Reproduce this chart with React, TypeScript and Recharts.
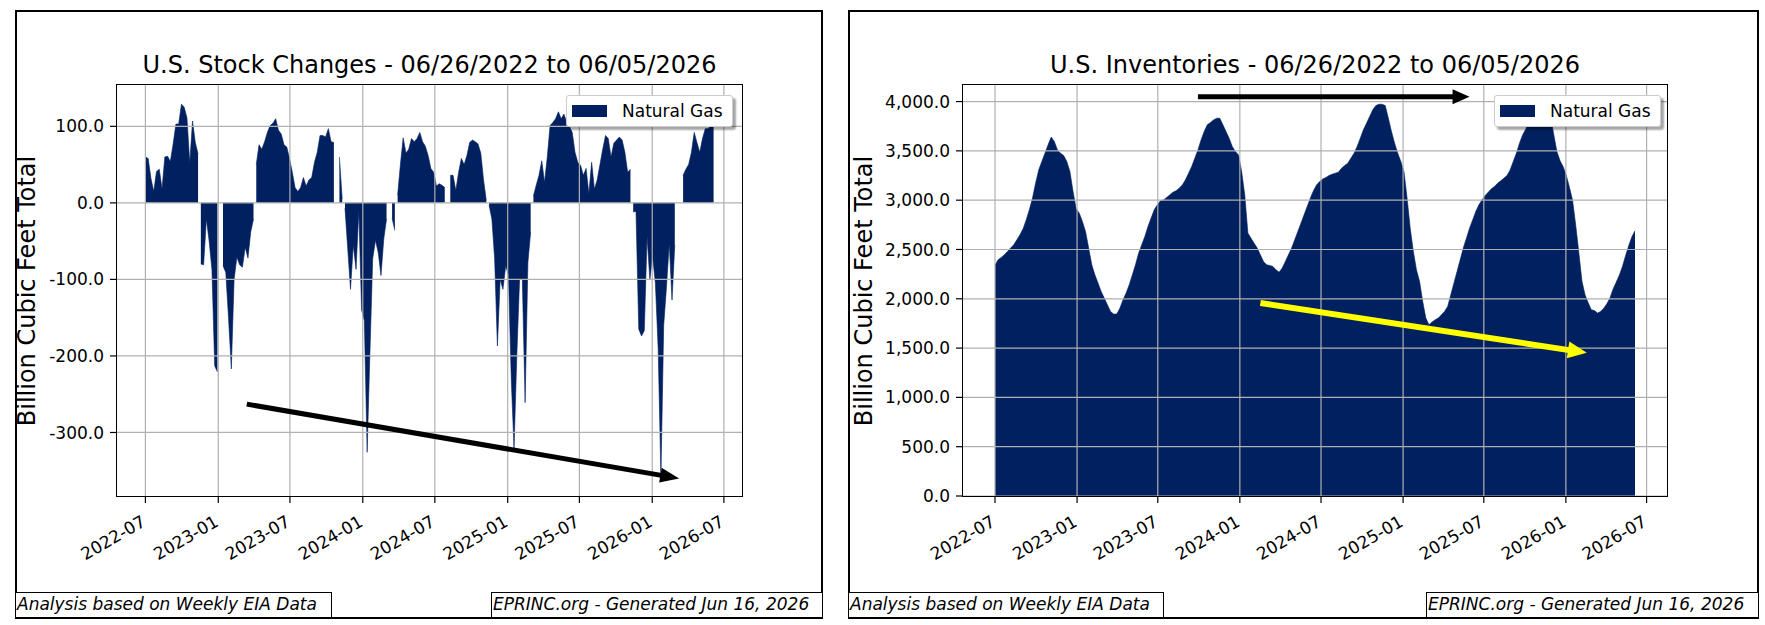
import React from 'react';
import { AreaChart, Area, XAxis, YAxis, ReferenceLine } from 'recharts';

const NAVY = '#002060';
const GRID = '#b0b0b0';
const FONT = '"DejaVu Sans", sans-serif';

// weekly EIA storage report, first week and values
const firstWeek = '2022-07-01';

const stockChanges = [
  60, 58, 32, 15, 41, 44, 18, 60, 61, 54, 77, 103, 103, 129, 125, 111, 52, 107, 79, 64,
  -80, -81, -21, -50, -87, -213, -221, 11, -82, -91, -151, -217, -100, -71, -81, -84, -58, -72, -38, -21,
  50, 76, 70, 80, 92, 101, 104, 110, 95, 90, 76, 73, 58,
  40, 20, 15, 20, 33, 22, 30, 33, 53, 66, 88, 88, 86, 97, 80, 79,
  -3, 60, 5, -7, -60, -113, -55, -87, -10, -140, -154, -326, -197, -73, -49, -65, -95, -47, -21, 5, -20, -36, 10,
  50, 85, 65, 70, 84, 80, 84, 92, 80, 74, 62, 45, 40,
  22, 25, 23, 20, -3, 36, 36, 16, 40, 58, 50, 62, 79, 82, 80, 77, 65, 30, 3, -3,
  -21, -73, -187, -100, -113, -82, -95, -230, -321, -200, -100, -100, -261, -78, -38,
  9, 23, 36, 55, 27, 60, 101, 105, 110, 119, 110, 116, 105, 100, 92, 66, 53, 49,
  36, 45, 12, 53, 18, 30, 50, 70, 88, 84, 60, 78, 82, 86, 82, 66, 40, 44,
  -12, -11, -165, -174, -167, -44, -100, -70, -105, -190, -358, -160, -110, -53, -127, -55, 31, -50,
  36, 44, 50, 66, 92, 79, 66, 84, 97, 97, 101, 100,
];

const inventories = [
  2340, 2395, 2419, 2446, 2480, 2514, 2547, 2598, 2649, 2710,
  2800, 2902, 3020, 3172, 3307, 3392, 3476, 3561, 3640, 3595,
  3510, 3476, 3453, 3392, 3290, 3088, 2912, 2868, 2784, 2683,
  2514, 2345, 2243, 2159, 2075, 2007, 1939, 1872, 1845, 1845,
  1905, 1990, 2058, 2142, 2243, 2345, 2463, 2547, 2632, 2733,
  2818, 2902, 2953, 2993, 3003, 3027, 3054, 3081, 3095, 3122,
  3155, 3206, 3274, 3341, 3426, 3510, 3611, 3696, 3764, 3787,
  3814, 3831, 3831, 3764, 3696, 3628, 3544, 3493, 3459, 3291,
  3054, 2666, 2615, 2564, 2514, 2446, 2378, 2345, 2338, 2328,
  2294, 2270, 2311, 2378, 2446, 2514, 2598, 2683, 2767, 2851,
  2936, 3020, 3095, 3155, 3189, 3216, 3230, 3250, 3264, 3274,
  3284, 3324, 3351, 3375, 3426, 3476, 3544, 3628, 3713, 3780,
  3848, 3916, 3959, 3973, 3973, 3959, 3831, 3696, 3578, 3476,
  3392, 3291, 3020, 2716, 2480, 2294, 2176, 1973, 1804, 1737,
  1764, 1787, 1804, 1838, 1872, 1923, 2041, 2159, 2277, 2395,
  2514, 2615, 2716, 2800, 2885, 2953, 3003, 3047, 3081, 3115,
  3139, 3172, 3196, 3223, 3250, 3307, 3392, 3476, 3578, 3662,
  3720, 3790, 3860, 3905, 3935, 3950, 3945, 3930, 3840, 3660,
  3490, 3400, 3340, 3250, 3130, 3000, 2750, 2470, 2180, 2040,
  1960, 1890, 1880, 1855, 1870, 1905, 1950, 2010, 2100, 2170,
  2240, 2330, 2440, 2540, 2630, 2690,
];

const dateTicks = ['2022-07', '2023-01', '2023-07', '2024-01', '2024-07', '2025-01', '2025-07', '2026-01', '2026-07'];
const changeTicks = [-300, -200, -100, 0, 100];
const inventoryTicks = [0, 500, 1000, 1500, 2000, 2500, 3000, 3500, 4000];

// hand-drawn annotation arrows (start, tip)
const changeArrow = [{ date: '2023-03-14', value: -263 }, { date: '2026-03-10', value: -360 }];
const inventoryArrow = [{ date: '2023-09-29', value: 4048 }, { date: '2025-05-30', value: 4048 }];
const inventoryTrend = [{ date: '2024-02-16', value: 1957 }, { date: '2026-02-17', value: 1452 }];

const DAY = 86400000;
const toDay = (s: string) => Date.parse(s.length === 7 ? `${s}-01` : s) / DAY;
const startDay = toDay(firstWeek);
const weekDay = (i: number) => startDay + 7 * i;
const tickDays = dateTicks.map(toDay);
const lastDay = weekDay(stockChanges.length - 1);
const pad = (lastDay - startDay) * 0.05;
const xDomain = [startDay - pad, lastDay + pad];

const changeRows = stockChanges.map((v, i) => ({
  day: weekDay(i),
  up: v >= 0 ? v : null,
  down: v < 0 ? v : null,
}));
const inventoryRows = inventories.map((v, i) => ({ day: weekDay(i), total: v }));

const toSegment = (pts: { date: string; value: number }[]) =>
  pts.map((p) => ({ x: toDay(p.date), y: p.value }));

function DateTick({ x, y, payload }: any) {
  const label = new Date(payload.value * DAY).toISOString().slice(0, 7);
  return (
    <text
      transform={`translate(${x - 5},${y + 9}) rotate(-30)`}
      textAnchor="end"
      dy="0.75em"
      fontSize={17}
      fill="#000"
      fontFamily={FONT}
    >
      {label}
    </text>
  );
}

const arrowShape = (color: string, width: number, headLen: number, headWid: number) => (p: any) => {
  const { x1, y1, x2, y2 } = p;
  const len = Math.hypot(x2 - x1, y2 - y1) || 1;
  const ux = (x2 - x1) / len;
  const uy = (y2 - y1) / len;
  const bx = x2 - ux * headLen;
  const by = y2 - uy * headLen;
  const nx = (-uy * headWid) / 2;
  const ny = (ux * headWid) / 2;
  return (
    <g>
      <line x1={x1} y1={y1} x2={bx + ux} y2={by + uy} stroke={color} strokeWidth={width} />
      <polygon points={`${x2},${y2} ${bx + nx},${by + ny} ${bx - nx},${by - ny}`} fill={color} />
    </g>
  );
};

const tickStyle = { fill: '#000', fontSize: 17, fontFamily: FONT };
const tickLine = { stroke: '#000', strokeWidth: 1.2 };

// matplotlib draws its grid above the fill, so the grid is made of reference lines
function gridLines(yTicks: number[]) {
  return [
    ...tickDays.map((d) => <ReferenceLine key={`gx${d}`} x={d} stroke={GRID} strokeWidth={1.2} />),
    ...yTicks.map((v) => <ReferenceLine key={`gy${v}`} y={v} stroke={GRID} strokeWidth={1.2} />),
  ];
}

function LegendBox({ left }: { left: number }) {
  return (
    <div
      style={{
        position: 'absolute', left, top: 95, width: 167, height: 32, boxSizing: 'border-box',
        border: '1px solid #cccccc', borderRadius: 3, background: '#fff',
        boxShadow: '3px 3px 2px rgba(0,0,0,0.35)', display: 'flex', alignItems: 'center',
      }}
    >
      <span style={{ width: 35, height: 12, background: NAVY, marginLeft: 5 }} />
      <span style={{ marginLeft: 15, fontSize: 17, lineHeight: '20px' }}>Natural Gas</span>
    </div>
  );
}

function Footer({ left, width, text }: { left: number; width: number; text: string }) {
  return (
    <div
      style={{
        position: 'absolute', left, top: 592, width, height: 26, boxSizing: 'border-box',
        border: '1.5px solid #000', fontStyle: 'italic', fontSize: 17, lineHeight: '22px',
        paddingLeft: 1, whiteSpace: 'nowrap', background: '#fff',
      }}
    >
      {text}
    </div>
  );
}

function Title({ left, width, text }: { left: number; width: number; text: string }) {
  return (
    <div style={{ position: 'absolute', left, width, top: 53, textAlign: 'center', fontSize: 24, lineHeight: '24px', whiteSpace: 'nowrap' }}>
      {text}
    </div>
  );
}

function YLabel({ cx }: { cx: number }) {
  return (
    <div
      style={{
        position: 'absolute', left: cx, top: 290.5, transform: 'translate(-50%,-50%) rotate(-90deg)',
        fontSize: 24, lineHeight: '24px', whiteSpace: 'nowrap',
      }}
    >
      Billion Cubic Feet Total
    </div>
  );
}

function Frame({ left, width }: { left: number; width: number }) {
  return (
    <div style={{ position: 'absolute', left, top: 84, width, height: 413, boxSizing: 'border-box', border: '1.5px solid #000' }} />
  );
}

function StockChangesChart() {
  return (
    <div style={{ position: 'absolute', left: 16, top: 11 }}>
      <AreaChart width={806} height={607} data={changeRows} margin={{ top: 74, right: 80, bottom: 0, left: 21 }}>
        <XAxis
          dataKey="day" type="number" domain={xDomain} ticks={tickDays} allowDataOverflow interval={0}
          height={122} tick={<DateTick />} tickSize={7} tickLine={tickLine} axisLine={false}
        />
        <YAxis
          type="number" domain={[-383, 154]} ticks={changeTicks} allowDataOverflow interval={0}
          width={80} tickSize={7} tickMargin={6} tickFormatter={(v: number) => v.toFixed(1)}
          tick={tickStyle} tickLine={tickLine} axisLine={false}
        />
        <Area dataKey="up" type="linear" baseValue={0} fill={NAVY} fillOpacity={1} stroke={NAVY} strokeWidth={0.6}
          connectNulls={false} dot={false} activeDot={false} isAnimationActive={false} />
        <Area dataKey="down" type="linear" baseValue={0} fill={NAVY} fillOpacity={1} stroke={NAVY} strokeWidth={0.6}
          connectNulls={false} dot={false} activeDot={false} isAnimationActive={false} />
        {gridLines(changeTicks)}
        <ReferenceLine segment={toSegment(changeArrow)} shape={arrowShape('#000', 5, 19, 15)} />
      </AreaChart>
    </div>
  );
}

function InventoriesChart() {
  return (
    <div style={{ position: 'absolute', left: 849, top: 11 }}>
      <AreaChart width={909} height={607} data={inventoryRows} margin={{ top: 74, right: 91, bottom: 0, left: 24 }}>
        <XAxis
          dataKey="day" type="number" domain={xDomain} ticks={tickDays} allowDataOverflow interval={0}
          height={122} tick={<DateTick />} tickSize={7} tickLine={tickLine} axisLine={false}
        />
        <YAxis
          type="number" domain={[0, 4168]} ticks={inventoryTicks} allowDataOverflow interval={0}
          width={90} tickSize={7} tickMargin={6}
          tickFormatter={(v: number) => v.toLocaleString('en-US', { minimumFractionDigits: 1, maximumFractionDigits: 1 })}
          tick={tickStyle} tickLine={tickLine} axisLine={false}
        />
        <Area dataKey="total" type="linear" baseValue={0} fill={NAVY} fillOpacity={1} stroke={NAVY} strokeWidth={0.6}
          dot={false} activeDot={false} isAnimationActive={false} />
        {gridLines(inventoryTicks)}
        <ReferenceLine segment={toSegment(inventoryArrow)} shape={arrowShape('#000', 5, 17, 15)} />
        <ReferenceLine segment={toSegment(inventoryTrend)} shape={arrowShape('#ffff00', 6, 19, 17)} />
      </AreaChart>
    </div>
  );
}

export default function App() {
  return (
    <div style={{ position: 'relative', width: 1765, height: 625, background: '#fff', fontFamily: FONT, color: '#000', overflow: 'hidden' }}>
      <style>{'body{margin:0}'}</style>
      <div style={{ position: 'absolute', left: 15, top: 10, width: 808, height: 609, boxSizing: 'border-box', border: '2px solid #000' }} />
      <div style={{ position: 'absolute', left: 848, top: 10, width: 911, height: 609, boxSizing: 'border-box', border: '2px solid #000' }} />

      <StockChangesChart />
      <InventoriesChart />

      <Frame left={116} width={627} />
      <Frame left={962} width={706} />

      <Title left={117} width={625} text="U.S. Stock Changes - 06/26/2022 to 06/05/2026" />
      <Title left={963} width={704} text="U.S. Inventories - 06/26/2022 to 06/05/2026" />

      <YLabel cx={27} />
      <YLabel cx={864} />

      <LegendBox left={566} />
      <LegendBox left={1494} />

      <Footer left={15} width={317} text="Analysis based on Weekly EIA Data" />
      <Footer left={491} width={332} text="EPRINC.org - Generated Jun 16, 2026" />
      <Footer left={848} width={316} text="Analysis based on Weekly EIA Data" />
      <Footer left={1426} width={333} text="EPRINC.org - Generated Jun 16, 2026" />
    </div>
  );
}
